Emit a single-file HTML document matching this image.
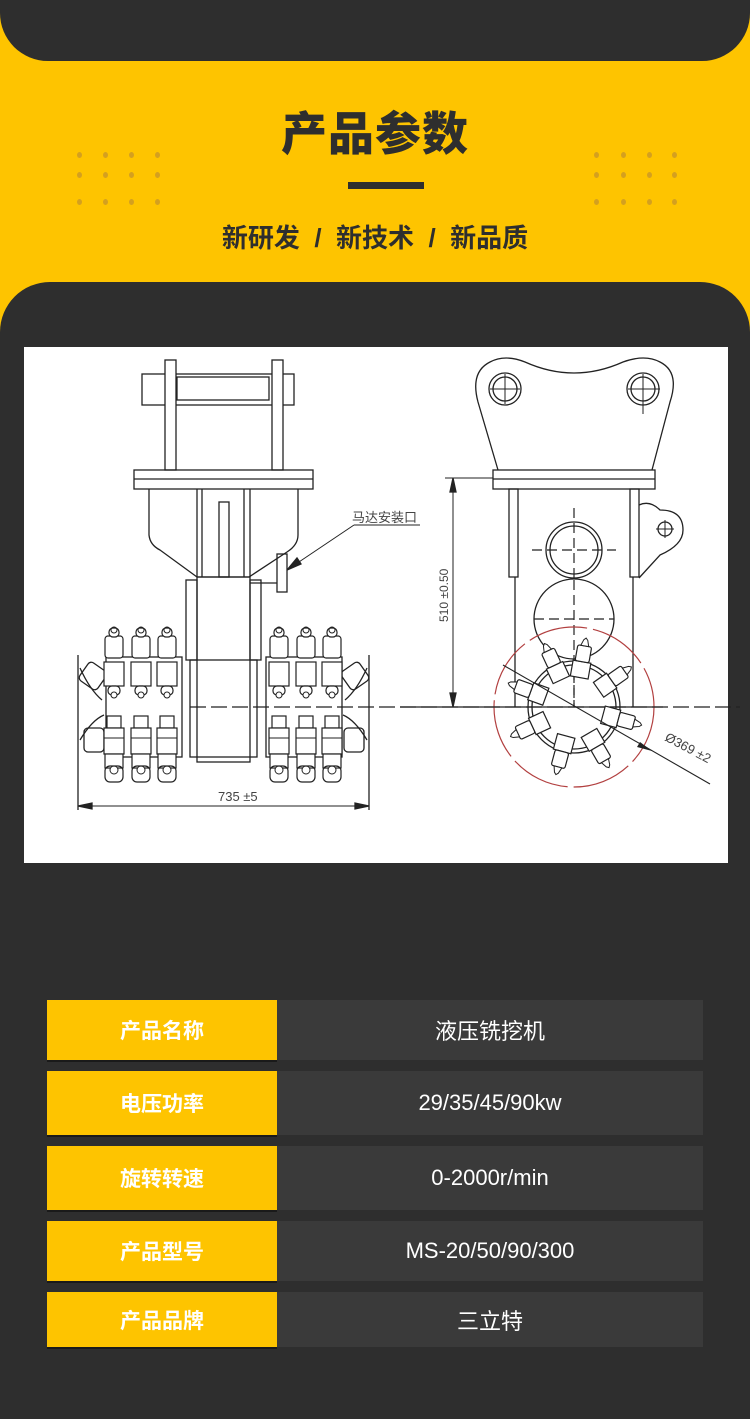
<!DOCTYPE html>
<html style="width:750px;height:1419px;overflow:hidden"><head><meta charset="utf-8">
<style>
*{margin:0;padding:0;box-sizing:border-box}
body{width:750px;height:1419px;background:#fec400;position:relative;overflow:hidden;font-family:"Liberation Sans","Noto Sans CJK SC",sans-serif}
.topband{position:absolute;left:0;top:-40px;width:750px;height:101px;background:#2e2e2e;border-radius:0 0 48px 48px}
.dark{position:absolute;left:0;top:282px;width:750px;height:1137px;background:#2e2e2e;border-radius:50px 50px 0 0}
.title{position:absolute;left:0;width:750px;top:98px;text-align:center;font-size:46px;font-weight:900;color:#2e2e2e;letter-spacing:1px}
.bar{position:absolute;left:348px;top:182px;width:76px;height:7px;background:#2e2e2e}
.sub{position:absolute;left:0;width:750px;top:218px;text-align:center;font-size:26px;color:#2e2e2e;font-weight:bold;white-space:pre}
.dot{position:absolute;width:5px;height:6px;border-radius:50%;background:#d4a01f}
.white{position:absolute;left:24px;top:347px;width:704px;height:516px;background:#fff}
.row{position:absolute;left:47px;width:656px}
.k{position:absolute;left:0;top:0;width:230px;height:100%;background:#fec400;color:#fff;font-size:21px;font-weight:bold;display:flex;align-items:center;justify-content:center;box-shadow:0 2px 0 #1a1a1a}
.v{position:absolute;left:230px;top:0;width:426px;height:100%;background:#3a3a3a;color:#fff;font-size:22px;display:flex;align-items:center;justify-content:center}
</style></head><body>
<div class="topband"></div>
<div class="title">产品参数</div>
<div class="bar"></div>
<div class="sub">新研发  /  新技术  /  新品质</div>
<div class="dot" style="left:77px;top:152px"></div><div class="dot" style="left:103px;top:152px"></div><div class="dot" style="left:129px;top:152px"></div><div class="dot" style="left:155px;top:152px"></div>
<div class="dot" style="left:77px;top:172px"></div><div class="dot" style="left:103px;top:172px"></div><div class="dot" style="left:129px;top:172px"></div><div class="dot" style="left:155px;top:172px"></div>
<div class="dot" style="left:77px;top:199px"></div><div class="dot" style="left:103px;top:199px"></div><div class="dot" style="left:129px;top:199px"></div><div class="dot" style="left:155px;top:199px"></div>
<div class="dot" style="left:594px;top:152px"></div><div class="dot" style="left:621px;top:152px"></div><div class="dot" style="left:647px;top:152px"></div><div class="dot" style="left:672px;top:152px"></div>
<div class="dot" style="left:594px;top:172px"></div><div class="dot" style="left:621px;top:172px"></div><div class="dot" style="left:647px;top:172px"></div><div class="dot" style="left:672px;top:172px"></div>
<div class="dot" style="left:594px;top:199px"></div><div class="dot" style="left:621px;top:199px"></div><div class="dot" style="left:647px;top:199px"></div><div class="dot" style="left:672px;top:199px"></div>
<div class="dark"></div>
<div class="white"></div>
<svg style="position:absolute;left:0;top:0" width="750" height="1419" viewBox="0 0 750 1419">
<defs>
<g id="pt">
<rect x="-9" y="0" width="18" height="22" rx="3" fill="#fff" stroke="#222" stroke-width="1.2"/>
<rect x="-5" y="-8" width="10" height="9" rx="4" fill="#fff" stroke="#222" stroke-width="1.2"/>
<circle cx="0" cy="-6" r="3" fill="none" stroke="#222"/>
<rect x="-10" y="26" width="20" height="24" fill="#fff" stroke="#222" stroke-width="1.2"/>
<rect x="-6" y="50" width="12" height="9" rx="4" fill="#fff" stroke="#222" stroke-width="1.2"/>
<circle cx="0" cy="59" r="3" fill="#fff" stroke="#222"/>
</g>
<g id="pb">
<rect x="-7" y="0" width="14" height="12" fill="#fff" stroke="#222" stroke-width="1.2"/>
<rect x="-10" y="12" width="20" height="26" fill="#fff" stroke="#222" stroke-width="1.2"/>
<line x1="-10" y1="22" x2="10" y2="22" stroke="#222"/>
<rect x="-9" y="38" width="18" height="14" fill="#fff" stroke="#222" stroke-width="1.2"/>
<circle cx="0" cy="54" r="4" fill="#fff" stroke="#222"/>
<rect x="-9" y="50" width="18" height="16" rx="5" fill="none" stroke="#222" stroke-width="1.2"/>
</g>
<g id="rp">
<rect x="0" y="-9" width="16" height="18" fill="#fff" stroke="#222" stroke-width="1.2"/>
<rect x="16" y="-7" width="16" height="14" rx="2" fill="#fff" stroke="#222" stroke-width="1.2"/>
<polygon points="32,-4 38,-2 40,0 38,2 32,4" fill="#fff" stroke="#222"/>
</g>
</defs>
<g fill="none" stroke="#222" stroke-width="1.3">
<rect x="142" y="374" width="152" height="31"/>
<rect x="177" y="377" width="92" height="23"/>
<rect x="165" y="360" width="11" height="110" fill="#fff"/>
<rect x="272" y="360" width="11" height="110" fill="#fff"/>
<rect x="134" y="470" width="179" height="19"/>
<line x1="134" y1="479" x2="313" y2="479"/>
<path d="M149 489 L149 535 Q150 545 160 550 L197 577 L249 577 L287 552 Q298 545 298 535 L298 489"/>
<line x1="197" y1="489" x2="197" y2="577"/><line x1="202" y1="489" x2="202" y2="577"/>
<line x1="244" y1="489" x2="244" y2="577"/><line x1="250" y1="489" x2="250" y2="577"/>
<rect x="219" y="502" width="10" height="75"/>
<rect x="277" y="554" width="10" height="38"/>
<line x1="250" y1="583" x2="277" y2="583"/>
<rect x="197" y="577" width="53" height="185"/>
<rect x="186" y="580" width="11" height="80"/>
<rect x="250" y="580" width="11" height="80"/>
<rect x="190" y="660" width="67" height="97"/>
<rect x="106" y="657" width="76" height="100"/>
<rect x="266" y="657" width="76" height="100"/>
<path d="M78 655 L78 810 M369 655 L369 810"/>
<path d="M80 668 Q90 690 102 700 M80 740 Q92 720 104 715 M367 668 Q357 690 345 700 M367 740 Q355 720 343 715"/>
<rect x="82" y="665" width="22" height="22" rx="4" transform="rotate(35 93 676)"/>
<rect x="344" y="665" width="22" height="22" rx="4" transform="rotate(-35 355 676)"/>
<rect x="84" y="728" width="20" height="24" rx="4"/>
<rect x="344" y="728" width="20" height="24" rx="4"/>
<line x1="78" y1="806" x2="369" y2="806" stroke-width="1"/>
<polygon points="78,806 92,803 92,809" fill="#222"/>
<polygon points="369,806 355,803 355,809" fill="#222"/>
<line x1="287" y1="570" x2="354" y2="525" stroke-width="1"/>
<polygon points="287,570 297,558 301,564" fill="#222"/>
<line x1="354" y1="525" x2="420" y2="525" stroke-width="1"/>
<line x1="190" y1="707" x2="740" y2="707" stroke-width="1.2" stroke-dasharray="16 5"/>
<path d="M498 470 L478 402 Q470 372 490 362 Q505 354 525 362 Q574 384 623 362 Q645 354 660 362 Q680 372 670 402 L652 470"/>
<circle cx="505" cy="389" r="16"/><circle cx="505" cy="389" r="12"/>
<circle cx="643" cy="389" r="16"/><circle cx="643" cy="389" r="12"/>
<path d="M490 389 H520 M505 374 V404 M628 389 H660 M643 374 V414" stroke-width="1"/>
<rect x="493" y="470" width="162" height="19"/>
<line x1="493" y1="479" x2="655" y2="479"/>
<rect x="509" y="489" width="9" height="88"/>
<rect x="630" y="489" width="9" height="88"/>
<path d="M639 505 Q650 500 660 510 Q683 510 683 530 Q683 545 660 555 L639 578"/>
<circle cx="665" cy="529" r="7"/><path d="M656 529 H674 M665 520 V538" stroke-width="1"/>
<line x1="515" y1="577" x2="515" y2="707"/><line x1="633" y1="577" x2="633" y2="707"/>
<circle cx="574" cy="550" r="28"/><circle cx="574" cy="550" r="24"/>
<path d="M532 550 H616 M574 508 V707" stroke-dasharray="10 5" stroke-width="1.2"/>
<circle cx="574" cy="619" r="40" fill="#fff"/>
<path d="M534 619 H614" stroke-dasharray="10 5" stroke-width="1.2"/>
<line x1="574" y1="580" x2="574" y2="707" stroke-dasharray="10 5" stroke-width="1.2"/>
<circle cx="574" cy="707" r="80" stroke="#b24040" stroke-width="1.2" stroke-dasharray="60 6"/>
<circle cx="574" cy="707" r="46"/><circle cx="574" cy="707" r="42"/>
<line x1="453" y1="478" x2="453" y2="707" stroke-width="1"/>
<polygon points="453,478 450,492 456,492" fill="#222"/>
<polygon points="453,707 450,693 456,693" fill="#222"/>
<line x1="445" y1="478" x2="493" y2="478" stroke-width="1"/>
<line x1="400" y1="707" x2="663" y2="707" stroke-width="1.3"/>
</g>
<g>
<use href="#pt" x="114" y="636"/><use href="#pt" x="141" y="636"/><use href="#pt" x="167" y="636"/>
<use href="#pt" x="279" y="636"/><use href="#pt" x="306" y="636"/><use href="#pt" x="332" y="636"/>
<use href="#pb" x="114" y="716"/><use href="#pb" x="141" y="716"/><use href="#pb" x="167" y="716"/>
<use href="#pb" x="279" y="716"/><use href="#pb" x="306" y="716"/><use href="#pb" x="332" y="716"/>
<g transform="translate(574,707)">
<use href="#rp" transform="rotate(-80) translate(30,0)"/>
<use href="#rp" transform="rotate(-35) translate(30,0)"/>
<use href="#rp" transform="rotate(15) translate(30,0)"/>
<use href="#rp" transform="rotate(60) translate(30,0)"/>
<use href="#rp" transform="rotate(105) translate(30,0)"/>
<use href="#rp" transform="rotate(155) translate(30,0)"/>
<use href="#rp" transform="rotate(200) translate(30,0)"/>
<use href="#rp" transform="rotate(245) translate(30,0)"/>
</g>
</g>
<line x1="503" y1="665" x2="710" y2="784" stroke="#222" stroke-width="1.1"/>
<polygon points="652,751 640,742 637,747" fill="#222"/>
<g font-family="'Liberation Sans','Noto Sans CJK SC',sans-serif" fill="#444">
<text x="352" y="522" font-size="13">马达安装口</text>
<text x="218" y="801" font-size="13">735 ±5</text>
<text transform="translate(448,622) rotate(-90)" font-size="12">510 ±0.50</text>
<text transform="translate(664,740) rotate(28)" font-size="13">Ø369 ±2</text>
</g>
</svg>
<div class="row" style="top:1000px;height:60px"><div class="k">产品名称</div><div class="v">液压铣挖机</div></div>
<div class="row" style="top:1071px;height:64px"><div class="k">电压功率</div><div class="v">29/35/45/90kw</div></div>
<div class="row" style="top:1146px;height:64px"><div class="k">旋转转速</div><div class="v">0-2000r/min</div></div>
<div class="row" style="top:1221px;height:60px"><div class="k">产品型号</div><div class="v">MS-20/50/90/300</div></div>
<div class="row" style="top:1292px;height:55px"><div class="k">产品品牌</div><div class="v">三立特</div></div>
</body></html>
